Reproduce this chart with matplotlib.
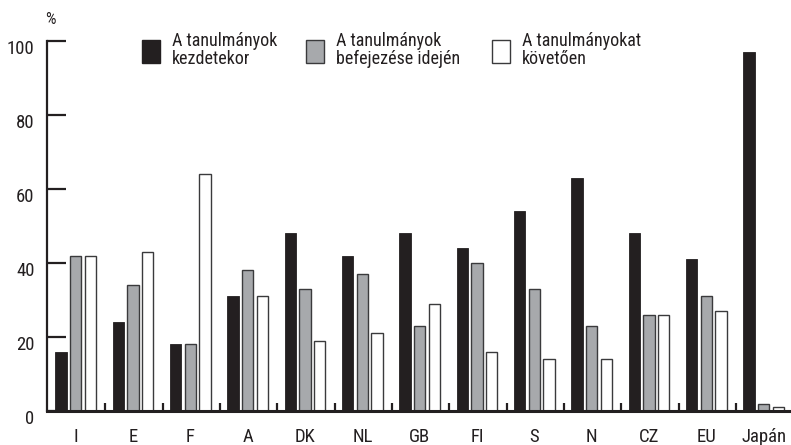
import matplotlib
matplotlib.use("Agg")
import matplotlib.pyplot as plt
import matplotlib.transforms as mtransforms
from matplotlib.patches import Rectangle
import numpy as np

plt.rcParams['font.family'] = ['Roboto Condensed', 'Fira Sans Condensed', 'Archivo Narrow',
                               'PT Sans Narrow', 'DejaVu Sans']

countries = ['I', 'E', 'F', 'A', 'DK', 'NL', 'GB', 'FI', 'S', 'N', 'CZ', 'EU', 'Japán']
start = [16, 24, 18, 31, 48, 42, 48, 44, 54, 63, 48, 41, 97]
end = [42, 34, 18, 38, 33, 37, 23, 40, 33, 23, 26, 31, 2]
after = [42, 43, 64, 31, 19, 21, 29, 16, 14, 14, 26, 27, 1]
labels = ['A tanulmányok\nkezdetekor',
          'A tanulmányok\nbefejezése idején',
          'A tanulmányokat\nkövetően']

black = '#231f20'
gray = '#a7a9ac'
edge = '#3a3a3c'

W, H = 791, 445
fig = plt.figure(figsize=(W / 100, H / 100), dpi=100)
ax = fig.add_axes([47 / W, 1 - 411 / H, (790 - 47) / W, (411 - 41) / H])

x = np.arange(len(countries))
bw = 0.2
off = 0.255
ax.bar(x - off, start, bw, color=black, edgecolor=black, linewidth=0.6)
ax.bar(x, end, bw, color=gray, edgecolor=edge, linewidth=1.0)
ax.bar(x + off, after, bw, color='white', edgecolor=edge, linewidth=1.0)

ax.set_xlim(-0.5, 12.46)
ax.set_ylim(0, 100)

for s in ['top', 'right']:
    ax.spines[s].set_visible(False)
ax.spines['left'].set_linewidth(1.6)
ax.spines['bottom'].set_linewidth(2.2)
ax.spines['left'].set_color(black)
ax.spines['bottom'].set_color(black)

ax.set_yticks(np.arange(0, 101, 20))
ax.tick_params(axis='y', direction='in', length=14, width=1.6, color=black,
               pad=9, labelsize=13.5, labelcolor=black)
off_t = mtransforms.ScaledTranslation(0, -6 / 100, fig.dpi_scale_trans)
for lab in ax.get_yticklabels():
    lab.set_transform(lab.get_transform() + off_t)

ax.set_xticks(x)
ax.set_xticklabels(countries)
ax.tick_params(axis='x', which='major', length=0, pad=12, labelsize=13.5, labelcolor=black)
ax.set_xticks(x[:-1] + 0.52, minor=True)
ax.tick_params(axis='x', which='minor', direction='in', length=6, width=1.6, color=black)

fig.text(45 / W, 1 - 19 / H, '%', fontsize=12, color=black, va='center', ha='left')

# legend drawn by hand
leg_x = [142, 306, 492]
leg_fc = [black, gray, 'white']
leg_ec = [black, edge, edge]
for lx, fc, ec, txt in zip(leg_x, leg_fc, leg_ec, labels):
    fig.patches.append(Rectangle((lx / W, 1 - 63 / H), 18 / W, 23 / H,
                                 transform=fig.transFigure, facecolor=fc,
                                 edgecolor=ec, linewidth=1.0))
    fig.text((lx + 30) / W, 1 - 50 / H, txt, fontsize=13, color=black,
             va='center', ha='left', linespacing=1.0)

fig.savefig('out.png', dpi=100)
